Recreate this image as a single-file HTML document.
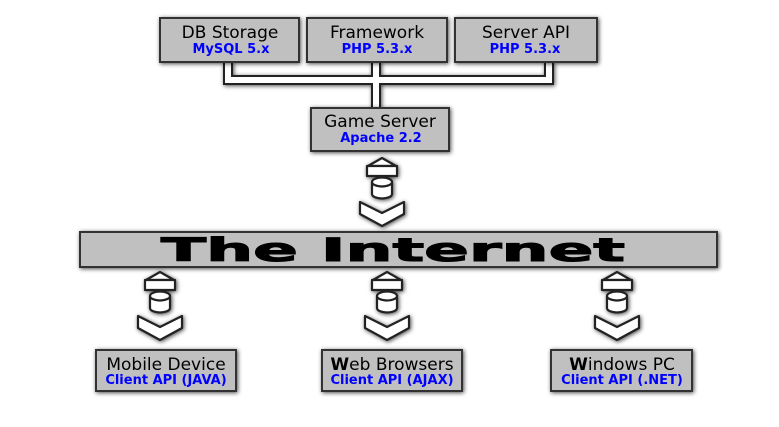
<!DOCTYPE html>
<html><head><meta charset="utf-8"><style>
html,body{margin:0;padding:0;background:#fff;}
svg{display:block}
.t{font-family:"DejaVu Sans","Liberation Sans",sans-serif;font-size:17px;fill:#000;text-anchor:middle}
.s{font-family:"DejaVu Sans","Liberation Sans",sans-serif;font-size:13px;font-weight:bold;fill:#0000ff;text-anchor:middle}
</style></head><body>
<svg width="779" height="427" viewBox="0 0 779 427" xmlns="http://www.w3.org/2000/svg">
<defs>
<filter id="sh" x="-20%" y="-30%" width="140%" height="160%">
<feDropShadow dx="1" dy="1" stdDeviation="2" flood-color="#000" flood-opacity="0.7"/>
</filter>
<g id="ic" fill="#fff" stroke="#222" stroke-width="2.2" stroke-linejoin="round">
<polygon points="0,0 14,8 -14,8"/>
<rect x="-15" y="8" width="30" height="10"/>
<path d="M-10,24 v12 a10,4.5 0 0 0 20,0 v-12"/>
<ellipse cx="0" cy="24" rx="10" ry="4.5"/>
<polygon points="-22,44 0,55 22,44 22,56 0,68 -22,56"/>
</g>
</defs>
<g filter="url(#sh)">
<path d="M228,62 V80 H549 V62 M376,62 V108" fill="none" stroke="#222" stroke-width="10"/>
<path d="M228,62 V80 H549 V62 M376,62 V108" fill="none" stroke="#fff" stroke-width="6"/>
</g>
<g filter="url(#sh)" fill="#c0c0c0" stroke="#333" stroke-width="2">
<rect x="160" y="18" width="139" height="44"/>
<rect x="307" y="18" width="140" height="44"/>
<rect x="455" y="18" width="142" height="44"/>
<rect x="311" y="108" width="138" height="43"/>
<rect x="80" y="232" width="637" height="35"/>
<rect x="96" y="350" width="140" height="41"/>
<rect x="322" y="350" width="140" height="41"/>
<rect x="551" y="350" width="141" height="41"/>
</g>
<g filter="url(#sh)">
<use href="#ic" x="382" y="158"/>
<use href="#ic" x="160" y="272"/>
<use href="#ic" x="387" y="272"/>
<use href="#ic" x="617" y="272"/>
</g>
<text class="t" x="230" y="38">DB Storage</text><text class="s" x="231" y="53">MySQL 5.x</text>
<text class="t" x="377" y="38">Framework</text><text class="s" x="377" y="53">PHP 5.3.x</text>
<text class="t" x="526" y="38">Server API</text><text class="s" x="525" y="53">PHP 5.3.x</text>
<text class="t" x="380" y="127">Game Server</text><text class="s" x="381" y="142">Apache 2.2</text>
<text x="161" y="261" textLength="464" lengthAdjust="spacingAndGlyphs" style="font-family:'DejaVu Sans','Liberation Sans',sans-serif;font-weight:bold;font-size:32px;fill:#000;stroke:#000;stroke-width:1">The Internet</text>
<text class="t" x="166" y="370">Mobile Device</text><text class="s" x="166" y="384">Client API (JAVA)</text>
<text class="t" x="392" y="370"><tspan font-weight="bold">W</tspan>eb Browsers</text><text class="s" x="392" y="384">Client API (AJAX)</text>
<text class="t" x="622" y="370"><tspan font-weight="bold">W</tspan>indows PC</text><text class="s" x="622" y="384">Client API (.NET)</text>
</svg>
</body></html>
